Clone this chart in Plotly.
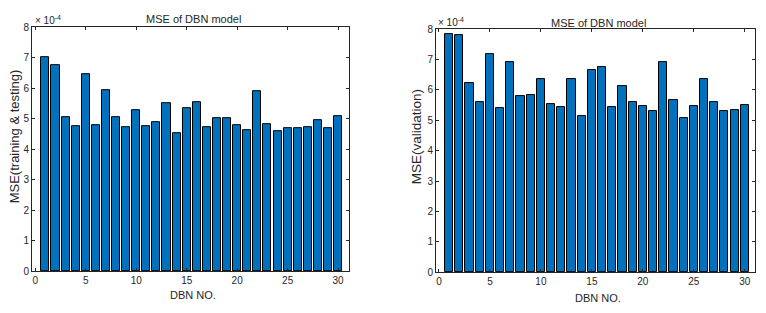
import plotly.graph_objects as go

dbn_no = list(range(1, 31))
mse_train_test = [7.02, 6.77, 5.05, 4.75, 6.46, 4.79, 5.94, 5.04, 4.73, 5.28,
                  4.77, 4.89, 5.52, 4.54, 5.35, 5.55, 4.73, 5.03, 5.03, 4.80,
                  4.63, 5.90, 4.81, 4.58, 4.70, 4.69, 4.73, 4.96, 4.68, 5.08]
mse_validation = [7.85, 7.81, 6.24, 5.61, 7.18, 5.40, 6.93, 5.80, 5.82, 6.34,
                  5.53, 5.43, 6.36, 5.15, 6.66, 6.74, 5.44, 6.13, 5.61, 5.48,
                  5.32, 6.92, 5.68, 5.08, 5.47, 6.34, 5.61, 5.29, 5.33, 5.50]
x_ticks = [0, 5, 10, 15, 20, 25, 30]
y_ticks = [0, 1, 2, 3, 4, 5, 6, 7, 8]

W, H = 766, 313
FONT = "Liberation Sans, Arial, sans-serif"
TXT = "#262626"
BAR = "#0072BD"

fig = go.Figure()
fig.add_trace(go.Bar(x=dbn_no, y=mse_train_test, width=0.8,
                     marker=dict(color=BAR, line=dict(color="black", width=1)),
                     xaxis="x", yaxis="y", showlegend=False))
fig.add_trace(go.Bar(x=dbn_no, y=mse_validation, width=0.8,
                     marker=dict(color=BAR, line=dict(color="black", width=1)),
                     xaxis="x2", yaxis="y2", showlegend=False))

def px_x(p):
    return p / W

def px_y(p):
    return 1 - p / H

axis_common = dict(showgrid=False, zeroline=False, showline=True, linecolor=TXT,
                   linewidth=1, mirror="ticks", ticks="inside", ticklen=3,
                   tickcolor=TXT, tickfont=dict(family=FONT, size=10, color=TXT))

fig.update_layout(
    width=W, height=H,
    margin=dict(l=0, r=0, t=0, b=0),
    paper_bgcolor="white", plot_bgcolor="white",
    bargap=0,
    xaxis=dict(domain=[px_x(32), px_x(349)], range=[-0.33, 31.08],
               tickvals=x_ticks, anchor="y", **axis_common),
    yaxis=dict(domain=[px_y(276), px_y(22)], range=[0, 8],
               tickvals=y_ticks, anchor="x", **axis_common),
    xaxis2=dict(domain=[px_x(436), px_x(755)], range=[-0.29, 31.0],
                tickvals=x_ticks, anchor="y2", **axis_common),
    yaxis2=dict(domain=[px_y(277), px_y(24)], range=[0, 8],
                tickvals=y_ticks, anchor="x2", **axis_common),
)

def ann(text, x, y, size=10, angle=0, xanchor="center", yanchor="middle"):
    fig.add_annotation(text=text, x=px_x(x), y=px_y(y), xref="paper", yref="paper",
                       showarrow=False, textangle=angle, xanchor=xanchor, yanchor=yanchor,
                       font=dict(family=FONT, size=size, color=TXT))

# titles
ann("MSE of DBN model", 193, 14, size=11)
ann("MSE of DBN model", 598, 17.5, size=11)
# x titles
ann("DBN NO.", 192.5, 301, size=11)
ann("DBN NO.", 597.5, 303.5, size=11)
# y titles
ann("MSE(training & testing)", 14, 135.5, size=13, angle=-90)
ann("MSE(validation)", 416, 136.5, size=13.5, angle=-90)
# exponent labels
ann("× 10<sup>-4</sup>", 33, 14.5, size=10, xanchor="left")
ann("× 10<sup>-4</sup>", 436, 17, size=10, xanchor="left")

fig.write_html("out.html",
               config={"displayModeBar": False},
               post_script="document.body.style.margin='0';document.body.style.overflow='hidden';")
